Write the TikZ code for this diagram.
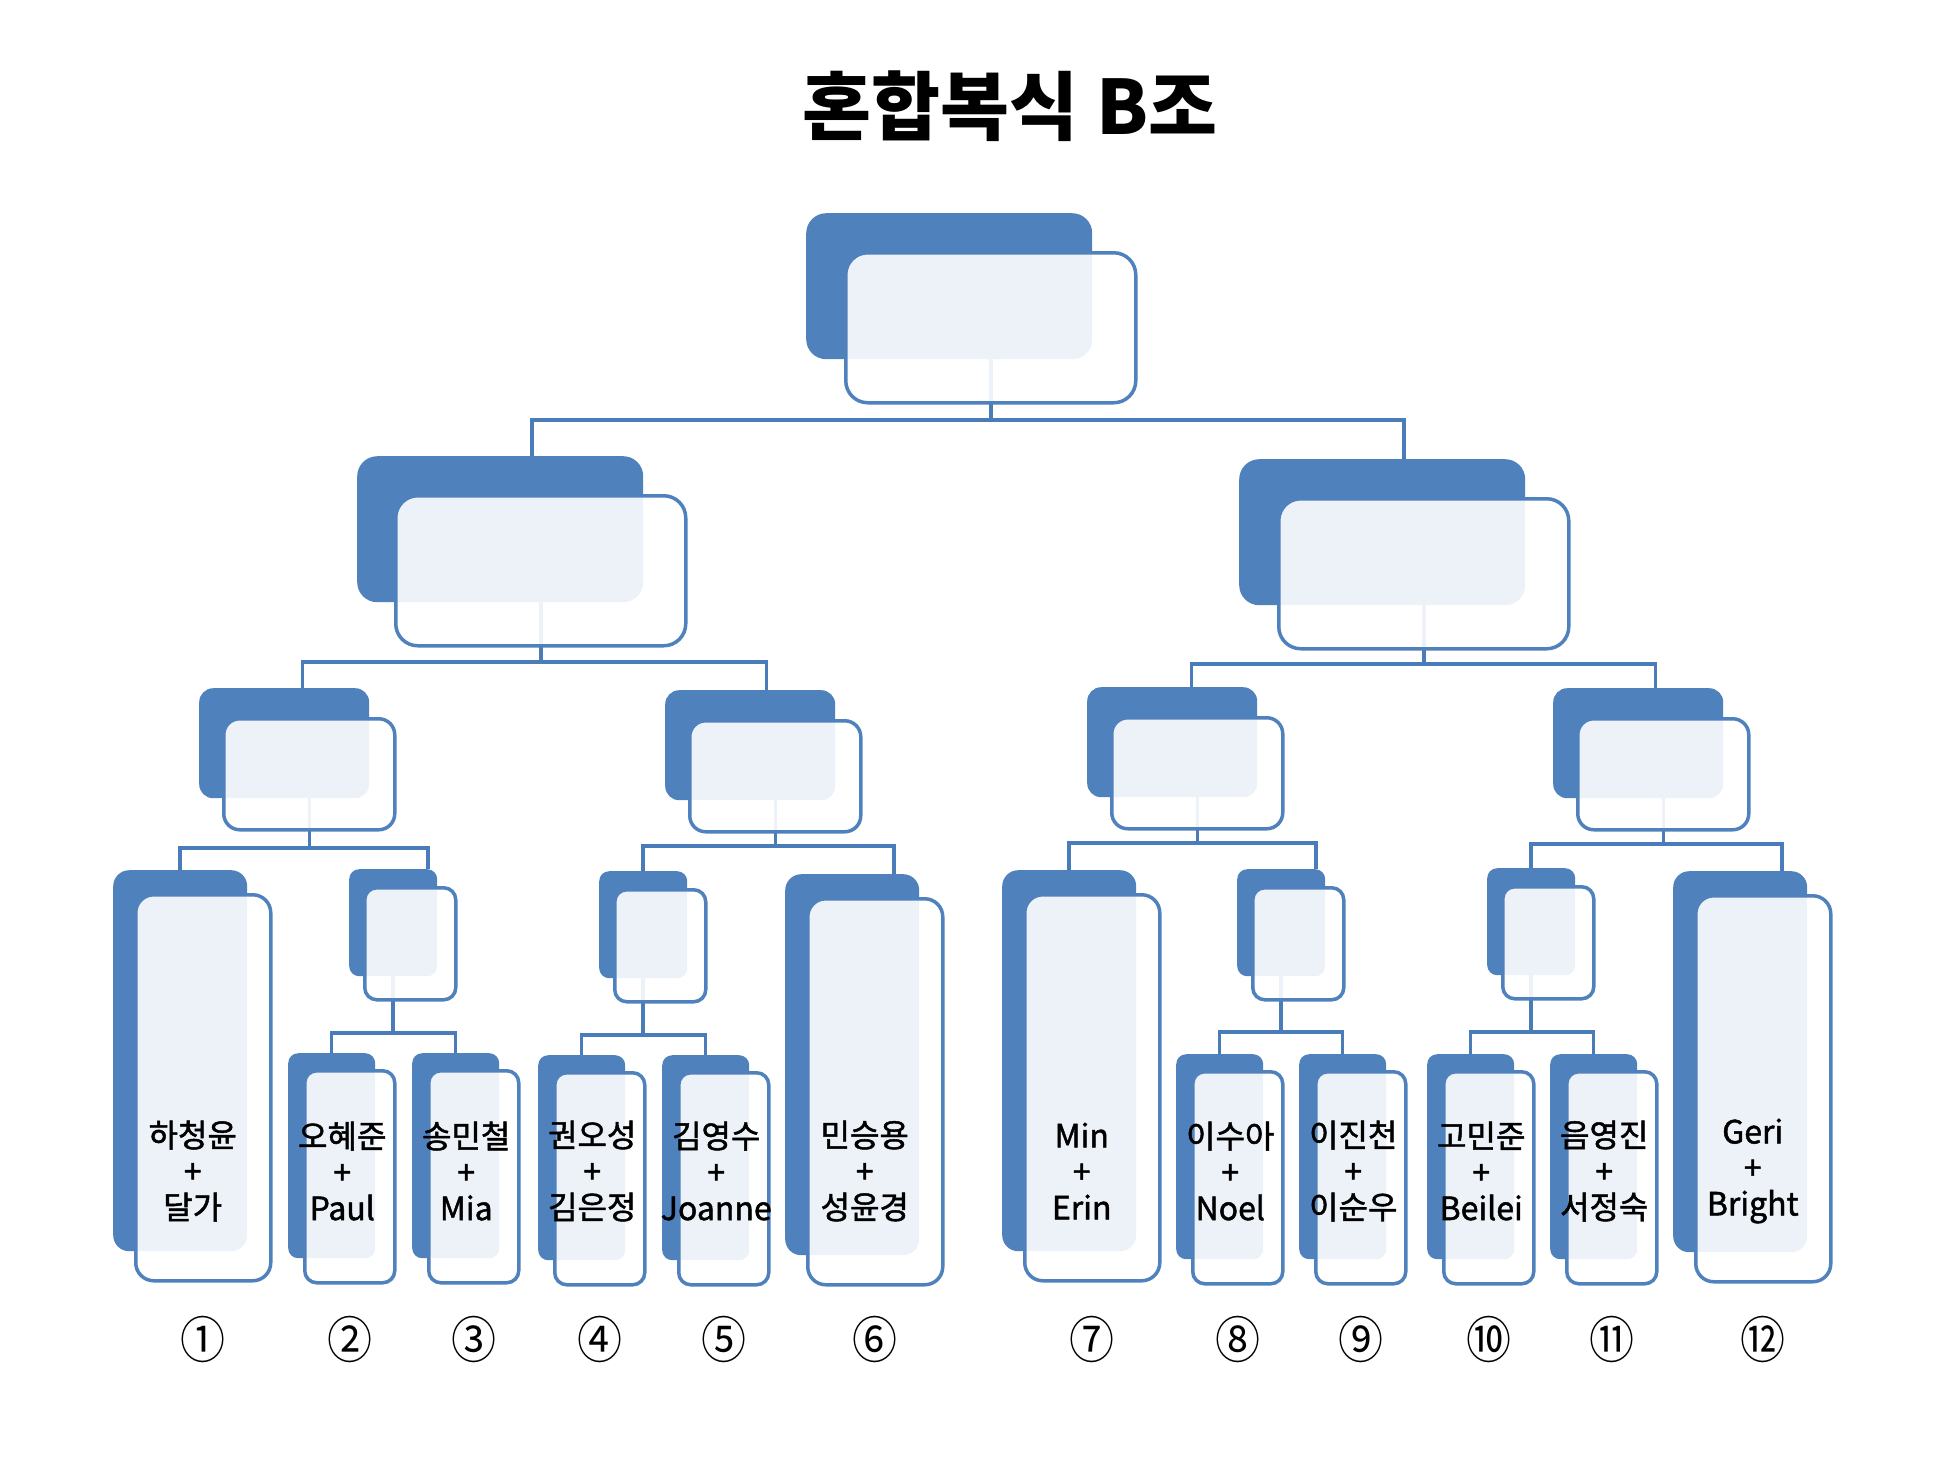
\documentclass[tikz,border=0pt]{standalone}
\usepackage{fontspec}
\setmainfont{Noto Sans CJK KR}
\newfontfamily\namefont[FakeBold=1.5]{Noto Sans CJK KR}
\usetikzlibrary{calc}
\definecolor{boxblue}{HTML}{4F81BD}
\definecolor{lineblue}{HTML}{4A7CBA}
\pgfdeclarelayer{bg}
\pgfsetlayers{bg,main}
\tikzset{
    back/.style = {fill=boxblue, rectangle, anchor=north west, inner sep=0pt},
    front/.style = {draw=boxblue, fill=white, fill opacity=0.9, text opacity=1, line width=3.5pt, rectangle, anchor=north west, inner sep=0pt},
    big-back/.style = {back, minimum width=286pt, minimum height=146pt, rounded corners=20pt},
    big-front/.style = {front, minimum width=290pt, minimum height=150pt, rounded corners=22pt},
    mid-back/.style = {back, minimum width=170pt, minimum height=110pt, rounded corners=14pt},
    mid-front/.style = {front, minimum width=171pt, minimum height=111pt, rounded corners=16pt},
    small-back/.style = {back, minimum width=88pt, minimum height=107pt, rounded corners=10pt},
    small-front/.style = {front, minimum width=91pt, minimum height=112pt, rounded corners=12pt},
    tall-back/.style = {back, minimum width=134pt, minimum height=381pt, rounded corners=16pt},
    tall-front/.style = {front, minimum width=135pt, minimum height=386pt, rounded corners=18pt},
    leaf-back/.style = {back, minimum width=87pt, minimum height=205pt, rounded corners=10pt},
    leaf-front/.style = {front, minimum width=90pt, minimum height=212pt, rounded corners=12pt},
    link/.style = {draw=lineblue, line width=3.5pt},
    names/.style = {align=center, font=\namefont\fontsize{32}{36}\selectfont, inner sep=0pt},
    seed/.style = {font=\fontsize{50}{50}\selectfont, inner sep=0pt, xscale=0.9},
}

\begin{document}
\begin{tikzpicture}[x=1pt, y=-1pt]
\useasboundingbox (0,0) rectangle (1958,1460);

\node[font=\bfseries\fontsize{75}{75}\selectfont] (title) at (1010,106) {혼합복식 B조};

% final and semi-finals
\node[big-back] (root-b) at (806,213) {};
\node[big-front] (root) at ([shift={(38,38)}]root-b.north west) {};
\node[big-back] (l2a-b) at (357,456) {};
\node[big-front] (l2a) at ([shift={(37,38)}]l2a-b.north west) {};
\node[big-back] (l2b-b) at (1239,459) {};
\node[big-front] (l2b) at ([shift={(38,38)}]l2b-b.north west) {};

% quarter-finals
\foreach \n/\x/\y in {l3a/199/688, l3b/665/690, l3c/1087/687, l3d/1553/688}{
    \node[mid-back] (\n-b) at (\x,\y) {};
    \node[mid-front] (\n) at ([shift={(23,29)}]\n-b.north west) {};
}
\foreach \n/\x/\y in {s1/349/869, s2/599/871, s3/1237/869, s4/1487/868}{
    \node[small-back] (\n-b) at (\x,\y) {};
    \node[small-front] (\n) at ([shift={(14,17)}]\n-b.north west) {};
}

% teams
\foreach \n/\x/\y in {leaf1/113/870, leaf6/785/874, leaf7/1002/870, leaf12/1673/871}{
    \node[tall-back] (\n-b) at (\x,\y) {};
    \node[tall-front] (\n) at ([shift={(21,23)}]\n-b.north west) {};
}
\foreach \n/\x/\y in {leaf2/288/1053, leaf3/412/1053, leaf4/538/1055, leaf5/662/1055,
                      leaf8/1176/1054, leaf9/1299/1054, leaf10/1427/1054, leaf11/1550/1054}{
    \node[leaf-back] (\n-b) at (\x,\y) {};
    \node[leaf-front] (\n) at ([shift={(15,16)}]\n-b.north west) {};
}

\foreach \n/\a/\b/\s in {leaf1/하청윤/달가/①, leaf2/오혜준/Paul/②, leaf3/송민철/Mia/③,
        leaf4/권오성/김은정/④, leaf5/김영수/Joanne/⑤, leaf6/민승용/성윤경/⑥,
        leaf7/Min/Erin/⑦, leaf8/이수아/Noel/⑧, leaf9/이진천/이순우/⑨,
        leaf10/고민준/Beilei/⑩, leaf11/음영진/서정숙/⑪, leaf12/Geri/Bright/⑫}{
    \node[names] (\n-t) at ($(\n-b.west |- 0,1171)!0.5!(\n.east |- 0,1171)$) {\a\\+\\\b};
    \node[seed] (\n-s) at (\n |- 0,1339) {\s};
}

% connectors
\begin{pgfonlayer}{bg}
\draw[link] (root.center) -- (root |- 0,420);
\draw[link] ([xshift=-9pt]l2a.north) |- (root |- 0,420) -| ([xshift=-20pt]l2b.north);
\draw[link] (l2a.center) -- (l2a |- 0,662);
\draw[link] ([xshift=-7pt]l3a.north) |- (l2a |- 0,662) -| ([xshift=-9pt]l3b.north);
\draw[link] (l2b.center) -- (l2b |- 0,664);
\draw[link] ([xshift=-6pt]l3c.north) |- (l2b |- 0,664) -| ([xshift=-8pt]l3d.north);
\draw[link] (l3a.center) -- (l3a |- 0,848);
\draw[link] (leaf1-b.north) |- (l3a |- 0,848) -| ([xshift=35pt]s1-b.north);
\draw[link] (l3b.center) -- (l3b |- 0,846);
\draw[link] (s2-b.north) |- (l3b |- 0,846) -| ([xshift=42pt]leaf6-b.north);
\draw[link] (l3c.center) -- (l3c |- 0,843);
\draw[link] (leaf7-b.north) |- (l3c |- 0,843) -| ([xshift=35pt]s3-b.north);
\draw[link] (l3d.center) -- (l3d |- 0,844);
\draw[link] (s4-b.north) |- (l3d |- 0,844) -| ([xshift=42pt]leaf12-b.north);
\draw[link] (s1-b.center) -- (s1-b |- 0,1033);
\draw[link] (leaf2-b.north) |- (s1-b |- 0,1033) -| (leaf3-b.north);
\draw[link] (s2-b.center) -- (s2-b |- 0,1035);
\draw[link] (leaf4-b.north) |- (s2-b |- 0,1035) -| (leaf5-b.north);
\draw[link] (s3-b.center) -- (s3-b |- 0,1032);
\draw[link] (leaf8-b.north) |- (s3-b |- 0,1032) -| (leaf9-b.north);
\draw[link] (s4-b.center) -- (s4-b |- 0,1032);
\draw[link] (leaf10-b.north) |- (s4-b |- 0,1032) -| (leaf11-b.north);
\end{pgfonlayer}
\end{tikzpicture}
\end{document}
